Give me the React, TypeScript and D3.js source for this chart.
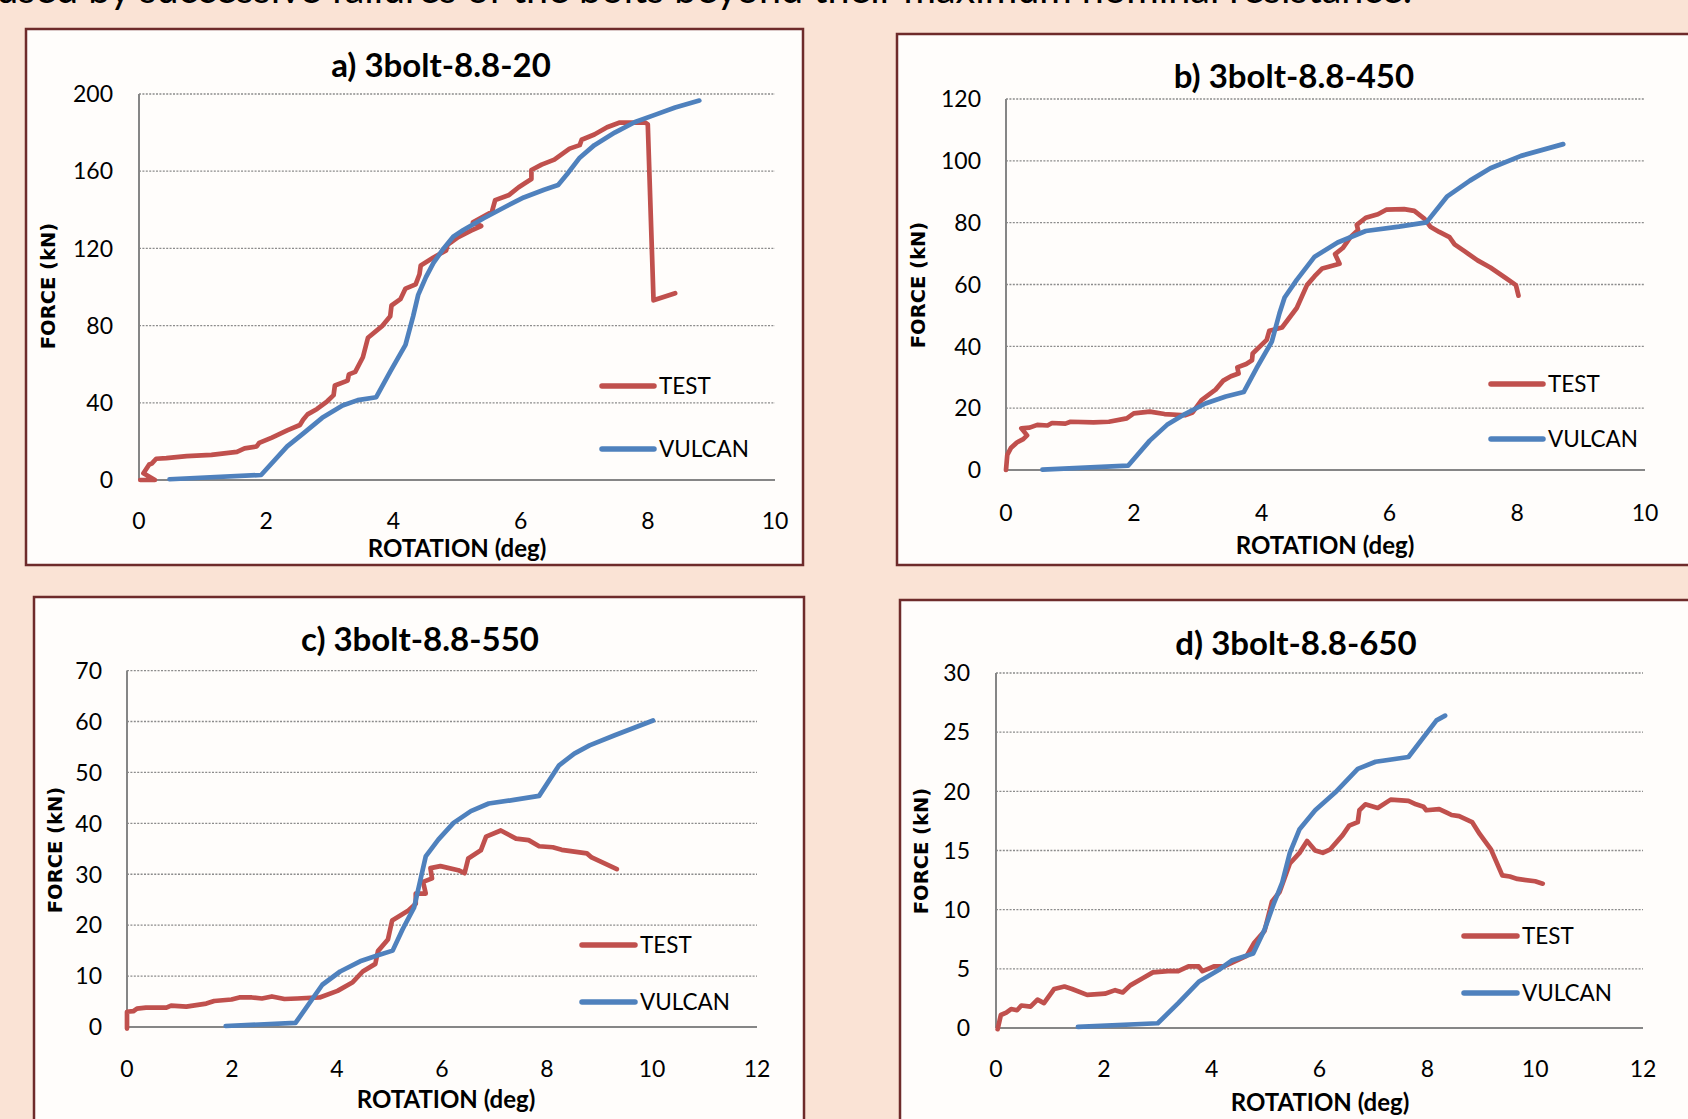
import * as d3 from "d3";

// page text above the charts (cut off by the top edge)
const captionText =
  "caused by successive failures of the bolts beyond their maximum nominal resistance.";

const titles = ["a) 3bolt-8.8-20", "b) 3bolt-8.8-450", "c) 3bolt-8.8-550", "d) 3bolt-8.8-650"];
const yLabels = ["FORCE (kN)", "FORCE (kN)", "FORCE  (kN)", "FORCE (kN)"];
const xLabel = "ROTATION (deg)";
const seriesNames = ["TEST", "VULCAN"];

const xTicksAB = [0, 2, 4, 6, 8, 10];
const xTicksCD = [0, 2, 4, 6, 8, 10, 12];
const yTicksA = [0, 40, 80, 120, 160, 200];
const yTicksB = [0, 20, 40, 60, 80, 100, 120];
const yTicksC = [0, 10, 20, 30, 40, 50, 60, 70];
const yTicksD = [0, 5, 10, 15, 20, 25, 30];

// a) 3bolt-8.8-20
const testA: [number, number][] = [
  [0.02, 0], [0.25, 0], [0.07, 3.5], [0.16, 8], [0.2, 8.5], [0.27, 11], [0.43, 11.3],
  [0.75, 12.4], [1.14, 13], [1.54, 14.6], [1.66, 16.4], [1.85, 17.4], [1.89, 19.2],
  [2.09, 22], [2.33, 25.7], [2.53, 28.5], [2.58, 31.2], [2.65, 34], [2.8, 36.8],
  [2.96, 40.8], [3.06, 44], [3.08, 49], [3.28, 51.5], [3.3, 54.7], [3.4, 56],
  [3.52, 63.6], [3.6, 73.7], [3.83, 80], [3.95, 84.8], [3.97, 90.4], [4.11, 93.7],
  [4.19, 99.2], [4.35, 101.4], [4.41, 106.6], [4.43, 111.2], [4.63, 115.3], [4.83, 119],
  [4.85, 121.8], [5.02, 125.8], [5.22, 129.2], [5.38, 131.6], [5.25, 133.5], [5.55, 139],
  [5.6, 145], [5.82, 147.7], [5.97, 151.7], [6.17, 156], [6.17, 160.6], [6.33, 163.4],
  [6.53, 166], [6.77, 171.7], [6.93, 173.5], [6.96, 176.3], [7.16, 179], [7.36, 182.8],
  [7.56, 185.2], [7.96, 185.2], [8.0, 184.2], [8.09, 93.1], [8.43, 96.8],
];
const vulcanA: [number, number][] = [
  [0.48, 0.4], [1.92, 2.6], [2.33, 17.4], [2.57, 23.8], [2.88, 32.2], [3.2, 38.6],
  [3.44, 41.4], [3.73, 42.9], [3.95, 56.2], [4.19, 70], [4.31, 84.8], [4.39, 95.9],
  [4.51, 105], [4.63, 112.5], [4.79, 120], [4.94, 126], [5.1, 129.5], [5.42, 135.6],
  [5.74, 141.2], [6.05, 146.4], [6.37, 150.4], [6.59, 152.8], [6.73, 158.4], [6.93, 167],
  [7.16, 173.5], [7.48, 180], [7.8, 185.5], [8.11, 189.2], [8.43, 193], [8.81, 196.6],
];

// b) 3bolt-8.8-450
const testB: [number, number][] = [
  [0, 0], [0.02, 4.9], [0.08, 7.2], [0.17, 8.9], [0.27, 10], [0.33, 11.2], [0.24, 13.5],
  [0.37, 13.7], [0.49, 14.6], [0.65, 14.4], [0.72, 15.2], [0.93, 15], [1.01, 15.6],
  [1.37, 15.4], [1.61, 15.6], [1.89, 16.7], [2.0, 18.3], [2.25, 18.9], [2.48, 18.1],
  [2.8, 17.7], [2.92, 18.6], [3.06, 22.6], [3.28, 26], [3.4, 28.9], [3.52, 30.3],
  [3.64, 31.2], [3.62, 33.2], [3.76, 34.3], [3.85, 35.5], [3.86, 37.7], [4.08, 42.1],
  [4.12, 45], [4.32, 46.1], [4.55, 52.4], [4.71, 59.8], [4.83, 62.7], [4.95, 65.2],
  [5.22, 66.7], [5.15, 69.8], [5.27, 71.8], [5.39, 75.3], [5.51, 77.6], [5.49, 79.3],
  [5.63, 81.6], [5.82, 82.7], [5.95, 84.2], [6.23, 84.4], [6.39, 83.8], [6.55, 81.2],
  [6.64, 78.7], [6.78, 77], [6.94, 75.3], [7.02, 73], [7.18, 70.7], [7.38, 67.8],
  [7.58, 65.5], [7.82, 62.1], [7.98, 59.8], [8.02, 56.4],
];
const vulcanB: [number, number][] = [
  [0.57, 0.1], [1.91, 1.4], [2.25, 9.5], [2.52, 14.6], [2.8, 18.1], [3.12, 21.5],
  [3.44, 23.8], [3.72, 25.2], [3.92, 32.9], [4.16, 41.5], [4.28, 50.7], [4.36, 55.8],
  [4.55, 61.5], [4.83, 69], [5.19, 73.6], [5.63, 77.3], [6.15, 78.7], [6.58, 80.1],
  [6.9, 88.4], [7.26, 93.6], [7.58, 97.6], [8.06, 101.6], [8.72, 105.4],
];

// c) 3bolt-8.8-550
const testC: [number, number][] = [
  [0, -0.3], [0, 3], [0.12, 3.1], [0.19, 3.6], [0.36, 3.8], [0.75, 3.8], [0.84, 4.2],
  [1.13, 4], [1.51, 4.6], [1.66, 5.1], [1.99, 5.4], [2.14, 5.8], [2.38, 5.8], [2.57, 5.6],
  [2.76, 6], [3.0, 5.5], [3.24, 5.6], [3.67, 5.8], [4.01, 7.1], [4.3, 8.8], [4.49, 10.9],
  [4.73, 12.4], [4.78, 14.9], [4.97, 17.2], [5.05, 20.9], [5.36, 22.9], [5.5, 24.2],
  [5.5, 26.2], [5.69, 26.2], [5.64, 28.5], [5.81, 29.2], [5.78, 31.2], [5.97, 31.6],
  [6.31, 30.8], [6.43, 30.2], [6.5, 33.1], [6.74, 34.7], [6.84, 37.4], [7.12, 38.6],
  [7.41, 37], [7.65, 36.7], [7.85, 35.5], [8.11, 35.3], [8.28, 34.8], [8.76, 34.1],
  [8.85, 33.3], [9.33, 31],
];
const vulcanC: [number, number][] = [
  [1.88, 0.2], [3.21, 0.8], [3.72, 8.3], [4.06, 10.9], [4.44, 12.9], [4.78, 14.1],
  [5.06, 15], [5.25, 19.2], [5.47, 23.5], [5.69, 33.5], [5.93, 36.8], [6.22, 40.1],
  [6.55, 42.4], [6.89, 43.9], [7.37, 44.6], [7.85, 45.4], [8.23, 51.4], [8.52, 53.7],
  [8.81, 55.3], [9.29, 57.3], [10.02, 60.2],
];

// d) 3bolt-8.8-650
const testD: [number, number][] = [
  [0.03, -0.1], [0.09, 1.1], [0.19, 1.3], [0.28, 1.6], [0.39, 1.5], [0.47, 1.9],
  [0.64, 1.8], [0.77, 2.4], [0.89, 2.1], [1.08, 3.3], [1.27, 3.5], [1.41, 3.3],
  [1.69, 2.8], [2.02, 2.9], [2.21, 3.2], [2.35, 3.0], [2.49, 3.6], [2.72, 4.2],
  [2.91, 4.7], [3.19, 4.8], [3.38, 4.8], [3.57, 5.2], [3.76, 5.2], [3.83, 4.8],
  [4.04, 5.2], [4.23, 5.2], [4.51, 5.8], [4.65, 6.1], [4.79, 7.2], [4.98, 8.2],
  [5.12, 10.7], [5.26, 11.5], [5.45, 13.9], [5.63, 14.8], [5.77, 15.8], [5.92, 15],
  [6.06, 14.8], [6.2, 15.1], [6.43, 16.3], [6.55, 17.1], [6.71, 17.4], [6.74, 18.4],
  [6.85, 18.9], [7.08, 18.6], [7.32, 19.3], [7.65, 19.2], [7.79, 18.9], [7.93, 18.7],
  [7.98, 18.4], [8.22, 18.5], [8.36, 18.2], [8.45, 18], [8.59, 17.9], [8.83, 17.4],
  [8.97, 16.4], [9.18, 15.1], [9.39, 12.9], [9.53, 12.8], [9.67, 12.6], [10.0, 12.4],
  [10.14, 12.2],
];
const vulcanD: [number, number][] = [
  [1.52, 0.1], [3.0, 0.4], [3.38, 2.1], [3.76, 3.9], [4.13, 4.9], [4.37, 5.7],
  [4.77, 6.3], [4.98, 8.3], [5.16, 10.6], [5.31, 12.3], [5.45, 14.8], [5.63, 16.8],
  [5.92, 18.4], [6.29, 19.9], [6.71, 21.9], [7.04, 22.5], [7.65, 22.9], [8.17, 26],
  [8.33, 26.4],
];

const BG = "#fae3d5";
const FRAME = "#6e2b2b";
const RED = "#c0504d";
const BLUE = "#4f81bd";
const FONT = "Lato, 'Open Sans', sans-serif";

type Panel = {
  frame: { x: number; y: number; w: number; h: number };
  plot: { left: number; right: number; top: number; bottom: number };
  xTicks: number[];
  yTicks: number[];
  title: { x: number; y: number };
  xTitle: { x: number; y: number };
  xTickY: number;
  yTickX: number;
  yTitle: { x: number; y: number };
  legend: { x1: number; x2: number; y1: number; y2: number };
  test: [number, number][];
  vulcan: [number, number][];
};

// layout in page pixels
const panels: Panel[] = [
  {
    frame: { x: 26, y: 29, w: 777, h: 536 },
    plot: { left: 139, right: 775, top: 94, bottom: 480 },
    xTicks: xTicksAB, yTicks: yTicksA,
    title: { x: 441, y: 77 }, xTitle: { x: 457, y: 557 },
    xTickY: 529, yTickX: 113, yTitle: { x: 48, y: 286 },
    legend: { x1: 602, x2: 654, y1: 386, y2: 449 },
    test: testA, vulcan: vulcanA,
  },
  {
    frame: { x: 897, y: 34, w: 820, h: 531 },
    plot: { left: 1006, right: 1645, top: 99, bottom: 470 },
    xTicks: xTicksAB, yTicks: yTicksB,
    title: { x: 1294, y: 88 }, xTitle: { x: 1325, y: 554 },
    xTickY: 521, yTickX: 981, yTitle: { x: 918, y: 285 },
    legend: { x1: 1491, x2: 1543, y1: 384, y2: 439 },
    test: testB, vulcan: vulcanB,
  },
  {
    frame: { x: 34, y: 597, w: 770, h: 560 },
    plot: { left: 127, right: 757, top: 670.6, bottom: 1027 },
    xTicks: xTicksCD, yTicks: yTicksC,
    title: { x: 420, y: 651 }, xTitle: { x: 446, y: 1108 },
    xTickY: 1077, yTickX: 102, yTitle: { x: 55, y: 850 },
    legend: { x1: 582, x2: 635, y1: 945, y2: 1002 },
    test: testC, vulcan: vulcanC,
  },
  {
    frame: { x: 900, y: 600, w: 820, h: 560 },
    plot: { left: 996, right: 1643, top: 673, bottom: 1028 },
    xTicks: xTicksCD, yTicks: yTicksD,
    title: { x: 1296, y: 655 }, xTitle: { x: 1320, y: 1111 },
    xTickY: 1077, yTickX: 970, yTitle: { x: 921, y: 851 },
    legend: { x1: 1464, x2: 1517, y1: 936, y2: 993 },
    test: testD, vulcan: vulcanD,
  },
];

function ChartPanel({ p, i }: { p: Panel; i: number }) {
  const x = d3
    .scaleLinear()
    .domain(d3.extent(p.xTicks) as [number, number])
    .range([p.plot.left, p.plot.right]);
  const y = d3
    .scaleLinear()
    .domain(d3.extent(p.yTicks) as [number, number])
    .range([p.plot.bottom, p.plot.top]);
  const line = d3
    .line<[number, number]>()
    .x((d) => x(d[0]))
    .y((d) => y(d[1]));

  return (
    <g>
      <rect
        x={p.frame.x}
        y={p.frame.y}
        width={p.frame.w}
        height={p.frame.h}
        fill="#fffdfb"
        stroke={FRAME}
        strokeWidth={2.5}
      />
      {/* gridlines */}
      {p.yTicks.slice(1).map((t) => (
        <line
          key={t}
          x1={p.plot.left}
          x2={p.plot.right}
          y1={y(t)}
          y2={y(t)}
          stroke="#8c8c8c"
          strokeWidth={1.3}
          strokeDasharray="2,1.4"
        />
      ))}
      {/* axes */}
      <line x1={p.plot.left} x2={p.plot.left} y1={p.plot.top} y2={p.plot.bottom} stroke="#868686" strokeWidth={2} />
      <line x1={p.plot.left} x2={p.plot.right} y1={p.plot.bottom} y2={p.plot.bottom} stroke="#868686" strokeWidth={2} />
      {p.yTicks.map((t) => (
        <text key={t} x={p.yTickX} y={y(t)} dy="0.36em" textAnchor="end" fontSize={23} fontFamily={FONT} fill="#000">
          {t}
        </text>
      ))}
      {p.xTicks.map((t) => (
        <text key={t} x={x(t)} y={p.xTickY} textAnchor="middle" fontSize={23} fontFamily={FONT} fill="#000">
          {t}
        </text>
      ))}
      <text x={p.title.x} y={p.title.y} textAnchor="middle" fontSize={33} fontWeight="bold" fontFamily={FONT} fill="#000">
        {titles[i]}
      </text>
      <text x={p.xTitle.x} y={p.xTitle.y} textAnchor="middle" fontSize={24} fontWeight="bold" fontFamily={FONT} fill="#000">
        {xLabel}
      </text>
      <text
        transform={`translate(${p.yTitle.x},${p.yTitle.y}) rotate(-90)`}
        textAnchor="middle"
        dy="0.36em"
        fontSize={19.5}
        fontWeight="bold"
        fontFamily="'DejaVu Sans', Verdana, sans-serif"
        fill="#000"
      >
        {yLabels[i]}
      </text>
      {/* series: TEST below, VULCAN on top */}
      <path d={line(p.test) ?? ""} fill="none" stroke={RED} strokeWidth={4.7} strokeLinejoin="round" strokeLinecap="round" />
      <path d={line(p.vulcan) ?? ""} fill="none" stroke={BLUE} strokeWidth={4.7} strokeLinejoin="round" strokeLinecap="round" />
      {/* legend */}
      {[RED, BLUE].map((c, k) => {
        const ly = k === 0 ? p.legend.y1 : p.legend.y2;
        return (
          <g key={k}>
            <line x1={p.legend.x1} x2={p.legend.x2} y1={ly} y2={ly} stroke={c} strokeWidth={5.5} strokeLinecap="round" />
            <text x={p.legend.x2 + 5} y={ly} dy="0.36em" fontSize={22.5} fontFamily={FONT} fill="#000">
              {seriesNames[k]}
            </text>
          </g>
        );
      })}
    </g>
  );
}

export default function App() {
  return (
    <svg
      width={1688}
      height={1119}
      viewBox="0 0 1688 1119"
      style={{ position: "fixed", left: 0, top: 0, display: "block" }}
    >
      <rect x={0} y={0} width={1688} height={1119} fill={BG} />
      <text x={1412} y={3} textAnchor="end" fontSize={39.5} fontFamily={FONT} fill="#000">
        {captionText}
      </text>
      {panels.map((p, i) => (
        <ChartPanel key={i} p={p} i={i} />
      ))}
    </svg>
  );
}
